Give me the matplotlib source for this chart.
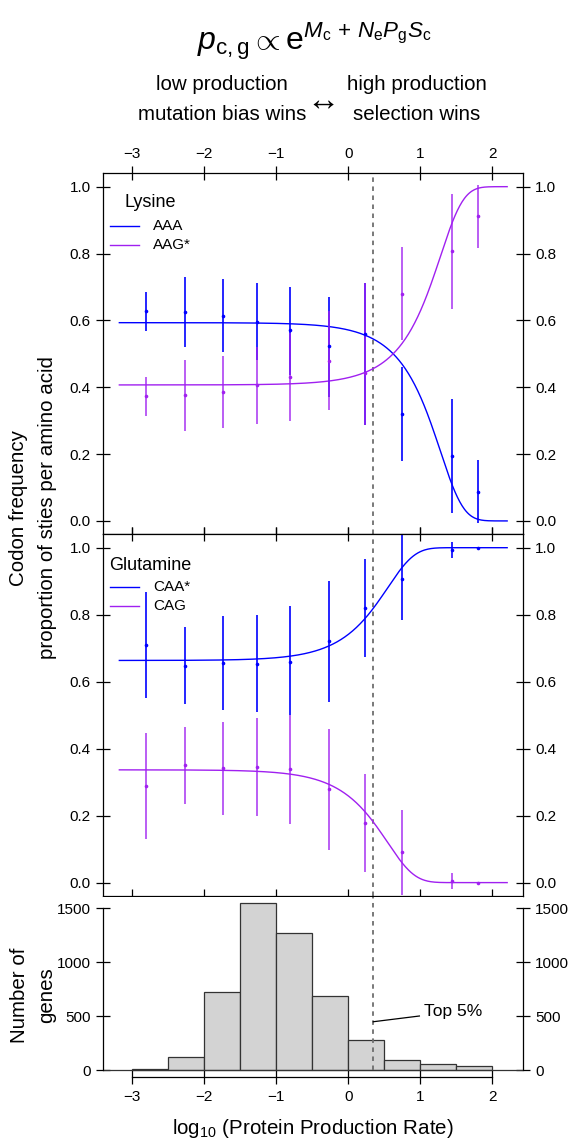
import numpy as np
import matplotlib
matplotlib.use("Agg")
import matplotlib.pyplot as plt

plt.rcParams['font.family'] = ['Liberation Sans', 'DejaVu Sans']
plt.rcParams['mathtext.fontset'] = 'custom'
plt.rcParams['mathtext.rm'] = 'Liberation Sans'
plt.rcParams['mathtext.it'] = 'Liberation Sans:italic'
plt.rcParams['mathtext.bf'] = 'Liberation Sans:bold'

# ---------------- data ----------------
bin_x = [-2.81, -2.27, -1.74, -1.27, -0.805, -0.264, 0.232, 0.75, 1.444, 1.801]

# Lysine
aaa_mean = [0.628, 0.625, 0.614, 0.595, 0.570, 0.522, 0.558, 0.321, 0.195, 0.088]
aaa_lo = [0.568, 0.520, 0.506, 0.480, 0.437, 0.372, 0.287, 0.179, 0.025, -0.005]
aaa_hi = [0.686, 0.730, 0.723, 0.711, 0.701, 0.669, 0.713, 0.460, 0.366, 0.182]
aag_mean = [0.373, 0.376, 0.387, 0.406, 0.431, 0.479, 0.444, 0.680, 0.807, 0.913]
aag_lo = [0.314, 0.270, 0.277, 0.289, 0.299, 0.331, 0.287, 0.540, 0.634, 0.818]
aag_hi = [0.432, 0.480, 0.494, 0.520, 0.563, 0.628, 0.713, 0.821, 0.977, 1.006]

# Glutamine
caa_mean = [0.710, 0.648, 0.657, 0.653, 0.660, 0.720, 0.820, 0.908, 0.993, 1.000]
caa_lo = [0.551, 0.533, 0.516, 0.508, 0.499, 0.538, 0.673, 0.783, 0.969, 1.000]
caa_hi = [0.868, 0.762, 0.795, 0.798, 0.825, 0.900, 0.967, 1.037, 1.017, 1.000]
cag_mean = [0.289, 0.351, 0.342, 0.346, 0.338, 0.279, 0.178, 0.090, 0.005, 0.000]
cag_lo = [0.131, 0.235, 0.202, 0.200, 0.175, 0.098, 0.032, -0.037, -0.019, 0.000]
cag_hi = [0.447, 0.465, 0.481, 0.491, 0.501, 0.460, 0.324, 0.217, 0.028, 0.000]

# model parameters (logit of reference codon vs alternative): dM + dEta * phi
lys_dM, lys_dEta = -0.377, 0.0893    # AAA vs AAG*
gln_dM, gln_dEta = -0.678, -0.372    # CAA* vs CAG
curve_range = (-3.18, 2.21)

# histogram of log10 production rate
hist_edges = [-3.0, -2.5, -2.0, -1.5, -1.0, -0.5, 0.0, 0.5, 1.0, 1.5, 2.0]
hist_counts = [12, 127, 728, 1546, 1274, 688, 281, 92, 56, 37]

top5_x = 0.34
xticks = [-3, -2, -1, 0, 1, 2]
yticks = [0.0, 0.2, 0.4, 0.6, 0.8, 1.0]
hist_yticks = [0, 500, 1000, 1500]

BLUE = '#0000FF'
PURPLE = '#A020F0'
DASH = '#6E6E6E'

W, H = 573, 1139
fig = plt.figure(figsize=(W / 100, H / 100), dpi=100)

def fx(px):
    return px / W

def fy(py):
    return 1 - py / H

left, right = 103.3, 522.7
ax1 = fig.add_axes([fx(left), fy(534.3), fx(right - left), (534.3 - 173.3) / H])
ax2 = fig.add_axes([fx(left), fy(896.0), fx(right - left), (896.0 - 534.3) / H])
ax3 = fig.add_axes([fx(left), fy(1077.0), fx(right - left), (1077.0 - 896.7) / H])

XLIM = (-3.403, 2.426)
TICKFS = 11

def style_panel(ax, top_labels=False):
    ax.set_xlim(*XLIM)
    ax.set_ylim(-0.04, 1.04)
    ax.set_xticks(xticks)
    ax.set_yticks(yticks)
    ax.set_yticklabels([f"{v:.1f}" for v in yticks])
    ax.tick_params(axis='both', direction='inout', length=9.6, width=0.9,
                   labelsize=TICKFS, top=True, right=True, bottom=True, left=True,
                   labeltop=top_labels, labelbottom=False,
                   labelleft=True, labelright=True)
    ax.tick_params(axis='y', pad=4.3)
    ax.tick_params(axis='x', pad=4.4)
    for s in ax.spines.values():
        s.set_linewidth(0.9)
    ax.axvline(top5_x, color=DASH, lw=1.3, ls=(0, (2.5, 2.5)))

phi = lambda x: 10.0 ** np.asarray(x)
cx = np.linspace(curve_range[0], curve_range[1], 500)

def draw_pair(ax, dM, dEta, m1, lo1, hi1, c1, m2, lo2, hi2, c2):
    p_ref = 1.0 / (1.0 + np.exp(dM + dEta * phi(cx)))
    ax.plot(cx, p_ref, color=c1, lw=1.0)
    ax.plot(cx, 1 - p_ref, color=c2, lw=1.0)
    ax.vlines(bin_x, lo1, hi1, color=c1, lw=1.2)
    ax.vlines(bin_x, lo2, hi2, color=c2, lw=1.2, alpha=0.85)
    ax.plot(bin_x, m1, 'o', color=c1, ms=2.6, mew=0)
    ax.plot(bin_x, m2, 'o', color=c2, ms=2.6, mew=0)

def legend(ax, title, labels, colors, ty, rows):
    ax.text(0.1113, ty, title, transform=ax.transAxes, ha='center', va='center', fontsize=13)
    for lab, col, ry in zip(labels, colors, rows):
        ax.plot([0.016, 0.0858], [ry, ry], transform=ax.transAxes, color=col, lw=1.0)
        ax.text(0.1192, ry, lab, transform=ax.transAxes, ha='left', va='center', fontsize=11)

style_panel(ax1, top_labels=True)
draw_pair(ax1, lys_dM, lys_dEta, aaa_mean, aaa_lo, aaa_hi, BLUE,
          aag_mean, aag_lo, aag_hi, PURPLE)
legend(ax1, 'Lysine', ['AAA', 'AAG*'], [BLUE, PURPLE], 0.9197, [0.854, 0.8006])

style_panel(ax2)
draw_pair(ax2, gln_dM, gln_dEta, caa_mean, caa_lo, caa_hi, BLUE,
          cag_mean, cag_lo, cag_hi, PURPLE)
legend(ax2, 'Glutamine', ['CAA*', 'CAG'], [BLUE, PURPLE], 0.915, [0.8535, 0.801])

# histogram
ax3.set_xlim(*XLIM)
ymax = max(hist_counts)
ax3.set_ylim(-0.04 * ymax, 1.04 * ymax)
widths = np.diff(hist_edges)
ax3.bar(hist_edges[:-1], hist_counts, width=widths, align='edge',
        color='#D3D3D3', edgecolor='#333333', linewidth=0.9)
ax3.axhline(0, color='#333333', lw=0.9)
ax3.vlines(top5_x, 0, 1.04 * ymax, color=DASH, lw=1.3, linestyles=[(0, (2.5, 2.5))])
ax3.plot([0.35, 0.99], [450, 503], color='black', lw=0.9)
ax3.text(1.06, 545, 'Top 5%', ha='left', va='center', fontsize=12.5)
ax3.spines['top'].set_visible(False)
ax3.spines['left'].set_bounds(0, 1500)
ax3.spines['right'].set_bounds(0, 1500)
ax3.spines['bottom'].set_bounds(-3, 2)
for s in ax3.spines.values():
    s.set_linewidth(0.9)
ax3.set_xticks(xticks)
ax3.set_yticks(hist_yticks)
ax3.tick_params(axis='both', direction='inout', length=9.6, width=0.9, labelsize=TICKFS,
                left=True, right=True, labelleft=True, labelright=True, top=False)
ax3.tick_params(axis='y', pad=4.3)
ax3.tick_params(axis='x', pad=4.7)

# labels
fig.text(fx(313), fy(1128), r'log$_{10}$ (Protein Production Rate)', ha='center', va='center', fontsize=14.8)
fig.text(fx(20), fy(995), 'Number of', rotation=90, ha='center', va='center', fontsize=14.8)
fig.text(fx(47), fy(995), 'genes', rotation=90, ha='center', va='center', fontsize=14.8)
fig.text(fx(19), fy(508), 'Codon frequency', rotation=90, ha='center', va='center', fontsize=14.8)
fig.text(fx(48), fy(508), 'proportion of sties per amino acid', rotation=90, ha='center', va='center', fontsize=14.8)

fig.text(fx(314), fy(50),
         r'$p_{\mathrm{c,g}} \propto \mathrm{e}^{M_{\mathrm{c}}\,+\,N_{\mathrm{e}}P_{\mathrm{g}}S_{\mathrm{c}}}$',
         ha='center', va='baseline', fontsize=23)
fig.text(fx(222), fy(85), 'low production', ha='center', va='center', fontsize=14.8)
fig.text(fx(222), fy(115), 'mutation bias wins', ha='center', va='center', fontsize=14.8)
fig.text(fx(417), fy(85), 'high production', ha='center', va='center', fontsize=14.8)
fig.text(fx(417), fy(115), 'selection wins', ha='center', va='center', fontsize=14.8)
fig.text(fx(323), fy(101), '\u2194', ha='center', va='center', fontsize=24,
         family=['Liberation Sans', 'DejaVu Sans'])

fig.savefig('out.png', dpi=100)
